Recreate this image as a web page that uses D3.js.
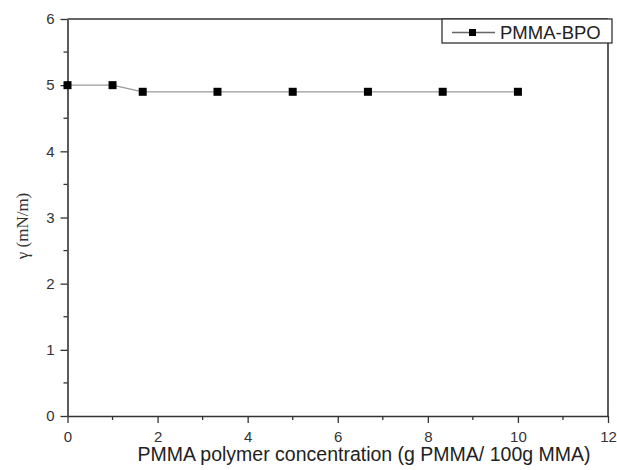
<!DOCTYPE html>
<html lang="en">
<head>
  <meta charset="UTF-8" />
  <title>Surface tension vs PMMA concentration</title>
  <script src="https://d3js.org/d3.v7.min.js"></script>
  <style>
    body { margin: 0; background: #fff; overflow: hidden; }
    svg { display: block; }
  </style>
</head>
<body>
<svg id="chart" width="617" height="470"></svg>
<script>
const concentration = [0, 1, 1.67, 3.33, 5, 6.67, 8.33, 10];
const tension = [5.0, 5.0, 4.9, 4.9, 4.9, 4.9, 4.9, 4.9];
const seriesName = "PMMA-BPO";
const xTicks = [0, 2, 4, 6, 8, 10, 12];
const yTicks = [0, 1, 2, 3, 4, 5, 6];

const svg = d3.select("#chart");
const mLeft = 67.5, mRight = 608, mTop = 19, mBottom = 416;

const x = d3.scaleLinear().domain([0, 12]).range([mLeft, mRight]);
const y = d3.scaleLinear().domain([0, 6]).range([mBottom, mTop]);
const axisColor = "#333";
const sans = "Liberation Sans, Arial, Helvetica, sans-serif";

// frame (top & right)
svg.append("line").attr("x1", mLeft).attr("x2", mRight).attr("y1", mTop).attr("y2", mTop)
  .attr("stroke", axisColor).attr("stroke-width", 1.6);
svg.append("line").attr("x1", mRight).attr("x2", mRight).attr("y1", mTop).attr("y2", mBottom)
  .attr("stroke", axisColor).attr("stroke-width", 1.6);

// minor ticks
const xMinor = d3.range(1, 12, 2);
const yMinor = d3.range(0.5, 6, 1);
svg.selectAll(".xminor").data(xMinor).enter().append("line")
  .attr("x1", d => x(d)).attr("x2", d => x(d)).attr("y1", mBottom).attr("y2", mBottom + 4)
  .attr("stroke", axisColor).attr("stroke-width", 1.3);
svg.selectAll(".yminor").data(yMinor).enter().append("line")
  .attr("x1", mLeft - 4).attr("x2", mLeft).attr("y1", d => y(d)).attr("y2", d => y(d))
  .attr("stroke", axisColor).attr("stroke-width", 1.3);

const xAxis = svg.append("g").attr("transform", `translate(0,${mBottom})`)
  .call(d3.axisBottom(x).tickValues(xTicks).tickFormat(d3.format("d"))
    .tickSize(7).tickPadding(8).tickSizeOuter(0));
const yAxis = svg.append("g").attr("transform", `translate(${mLeft},0)`)
  .call(d3.axisLeft(y).tickValues(yTicks).tickFormat(d3.format("d"))
    .tickSize(7).tickPadding(6).tickSizeOuter(0));
[xAxis, yAxis].forEach(g => {
  g.attr("font-family", sans).attr("font-size", 15);
  g.select(".domain").attr("stroke", axisColor).attr("stroke-width", 1.6);
  g.selectAll(".tick line").attr("stroke", axisColor).attr("stroke-width", 1.3);
  g.selectAll(".tick text").attr("fill", "#333");
});

// axis titles
svg.append("text").attr("x", 364).attr("y", 461).attr("text-anchor", "middle")
  .attr("font-family", sans).attr("font-size", 19.5).attr("fill", "#222")
  .text("PMMA polymer concentration (g PMMA/ 100g MMA)");
svg.append("text").attr("transform", `translate(28,226) rotate(-90)`)
  .attr("text-anchor", "middle")
  .attr("font-family", "Liberation Serif, Times New Roman, serif").attr("font-size", 17).attr("fill", "#333")
  .text("γ (mN/m)");

// series
const pts = concentration.map((c, i) => [c, tension[i]]);
svg.append("path").datum(pts)
  .attr("d", d3.line().x(d => x(d[0])).y(d => y(d[1])))
  .attr("fill", "none").attr("stroke", "#999").attr("stroke-width", 1.3);
svg.selectAll(".pt").data(pts).enter().append("rect")
  .attr("x", d => x(d[0]) - 4).attr("y", d => y(d[1]) - 4)
  .attr("width", 8).attr("height", 8).attr("fill", "#000");

// legend
const lg = svg.append("g");
lg.append("rect").attr("x", 442).attr("y", mTop).attr("width", 170).attr("height", 24)
  .attr("fill", "#fff").attr("stroke", axisColor).attr("stroke-width", 1.3);
lg.append("line").attr("x1", 452).attr("x2", 495).attr("y1", 32.5).attr("y2", 32.5)
  .attr("stroke", "#666").attr("stroke-width", 1.3);
lg.append("rect").attr("x", 469).attr("y", 29).attr("width", 7).attr("height", 7).attr("fill", "#000");
lg.append("text").attr("x", 500).attr("y", 38.5)
  .attr("font-family", sans).attr("font-size", 18.5).attr("fill", "#222")
  .text(seriesName);
</script>
</body>
</html>
